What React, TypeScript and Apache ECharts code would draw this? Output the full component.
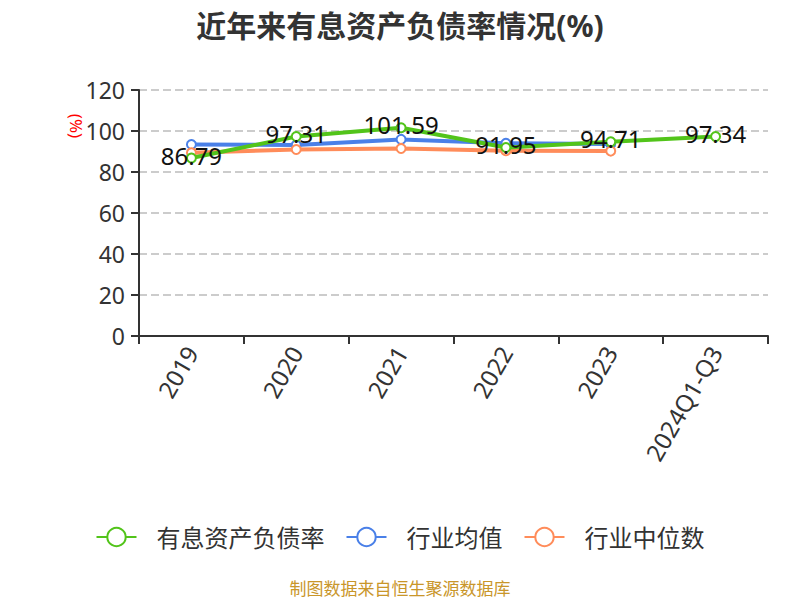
import React, { useEffect, useRef } from "react";
import * as echarts from "echarts";

const categories = ["2019", "2020", "2021", "2022", "2023", "2024Q1-Q3"];
const debtRatio = [86.79, 97.31, 101.59, 91.95, 94.71, 97.34];
const industryAvg = [93.4, 93.2, 95.9, 94.0, 93.7, null];
const industryMedian = [89.4, 91.0, 91.5, 90.4, 90.2, null];
const seriesNames = ["有息资产负债率", "行业均值", "行业中位数"];
const colors = ["#52c41a", "#4a80e8", "#ff8c5a"];

export default function App() {
  const ref = useRef<HTMLDivElement>(null);
  useEffect(() => {
    if (!ref.current) return;
    const chart = echarts.init(ref.current, undefined, { renderer: "svg" });
    const font = "'Noto Sans', 'Noto Sans CJK SC', sans-serif";
    chart.setOption({
      animation: false,
      textStyle: { fontFamily: font },
      title: {
        text: "近年来有息资产负债率情况(%)",
        left: "center",
        top: 5,
        textStyle: { fontSize: 30, fontWeight: "bold", color: "#333", fontFamily: font },
      },
      legend: {
        top: 520,
        left: "center",
        itemWidth: 40,
        itemHeight: 23,
        itemGap: 21,
        textStyle: { fontSize: 24, color: "#333", fontFamily: font, padding: [0, 0, 0, 15] },
        data: seriesNames,
      },
      graphic: [
        {
          type: "text",
          x: 76,
          y: 126,
          rotation: -Math.PI / 2,
          style: {
            text: "(%)",
            fill: "#f00",
            font: "17px " + font,
            textAlign: "center",
            textVerticalAlign: "middle",
          },
        },
        {
          type: "text",
          left: "center",
          top: 580,
          style: {
            text: "制图数据来自恒生聚源数据库",
            fill: "#c9962a",
            font: "17px " + font,
          },
        },
      ],
      grid: { left: 139, right: 32, top: 90, bottom: 264, containLabel: false },
      xAxis: {
        type: "category",
        data: categories,
        boundaryGap: true,
        axisLine: { lineStyle: { color: "#333", width: 2 } },
        axisTick: { show: true, length: 8, lineStyle: { color: "#333", width: 2 } },
        axisLabel: { rotate: 60, fontSize: 24, color: "#333", margin: 12, fontFamily: font },
      },
      yAxis: {
        type: "value",
        min: 0,
        max: 120,
        interval: 20,
        axisLine: { show: true, lineStyle: { color: "#333", width: 2 } },
        axisTick: { show: true, length: 8, lineStyle: { color: "#333", width: 2 } },
        axisLabel: { fontSize: 23, color: "#333", margin: 14, fontFamily: font },
        splitLine: { lineStyle: { type: "dashed", color: "#ccc", width: 2 } },
      },
      series: [
        {
          name: seriesNames[0],
          type: "line",
          data: debtRatio,
          symbol: "emptyCircle",
          symbolSize: 9,
          lineStyle: { width: 4, color: colors[0] },
          itemStyle: { color: colors[0] },
          label: {
            show: true,
            position: "inside",
            offset: [0, -3],
            fontSize: 24,
            color: "#111",
            fontFamily: font,
          },
          z: 3,
        },
        {
          name: seriesNames[1],
          type: "line",
          data: industryAvg,
          symbol: "emptyCircle",
          symbolSize: 9,
          lineStyle: { width: 4, color: colors[1] },
          itemStyle: { color: colors[1] },
          z: 2,
        },
        {
          name: seriesNames[2],
          type: "line",
          data: industryMedian,
          symbol: "emptyCircle",
          symbolSize: 9,
          lineStyle: { width: 4, color: colors[2] },
          itemStyle: { color: colors[2] },
          z: 2,
        },
      ],
    });
    return () => chart.dispose();
  }, []);
  return (
    <div
      ref={ref}
      style={{ width: 800, height: 600, position: "absolute", left: 0, top: 0 }}
    />
  );
}
